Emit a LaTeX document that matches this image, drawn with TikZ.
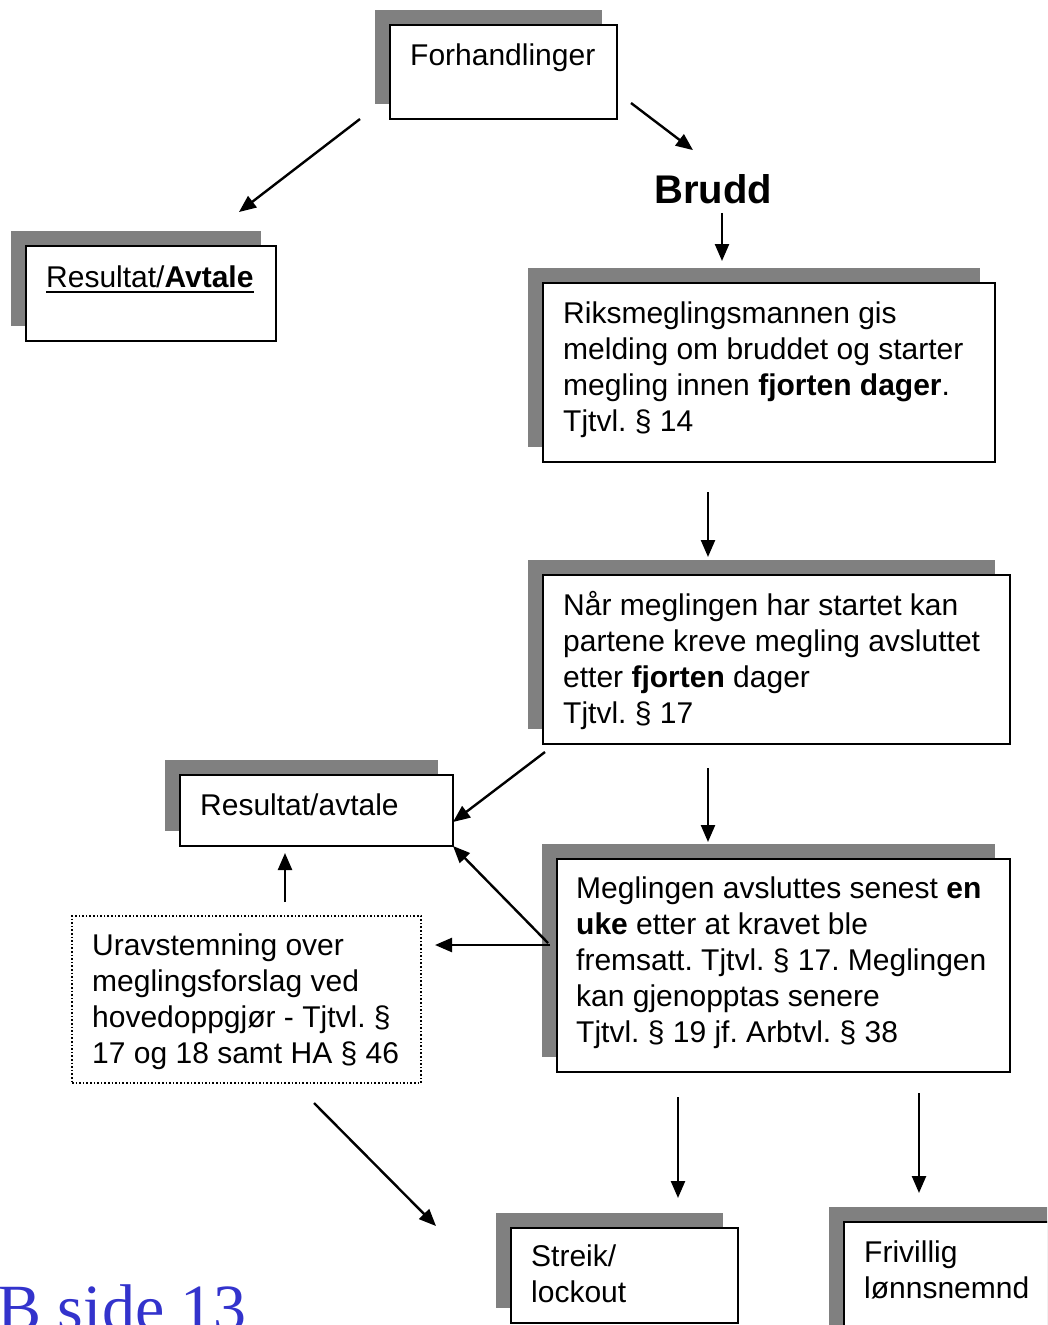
\documentclass[tikz,border=0pt]{standalone}
\usepackage{fontspec}
\setmainfont{Liberation Sans}
\newfontfamily\sidefont{Liberation Serif}
\usetikzlibrary{arrows.meta,calc,shadows}

\definecolor{shadegray}{HTML}{808080}
\definecolor{sideblue}{HTML}{3333CC}

\frenchspacing
\newcommand{\bodyfont}{\fontsize{30}{36}\selectfont}
\newcommand{\thickul}[1]{\setbox0\hbox{#1}\rlap{\rule[-5.5pt]{\wd0}{2pt}}\box0}

\tikzset{
  flowbox/.style={draw, line width=1.4pt, fill=white, anchor=north west,
    inner sep=0pt, outer sep=0pt,
    drop shadow={shadow xshift=-15pt, shadow yshift=15pt, fill=shadegray, opacity=1}},
  dotbox/.style={draw, dotted, line width=1.6pt, anchor=north west,
    inner sep=0pt, outer sep=0pt},
  flowtext/.style={anchor=north west, inner sep=0pt, align=left, font=\bodyfont},
  arr/.style={line width=2.4pt, -{Triangle[length=17pt,width=14pt]}}
}

\begin{document}
\begin{tikzpicture}[x=1pt, y=-1pt]
    \useasboundingbox (0,0) rectangle (1047,1325);
    \clip (0,0) rectangle (1047,1325);

    % Boxes
    \node[flowbox, minimum width=227pt, minimum height=94pt] (forh) at (390,25) {};
    \node[flowbox, minimum width=250pt, minimum height=95pt] (resA) at (26,246) {};
    \node[flowbox, minimum width=452pt, minimum height=179pt] (riks) at (543,283) {};
    \node[flowbox, minimum width=467pt, minimum height=169pt] (naar) at (543,575) {};
    \node[flowbox, minimum width=273pt, minimum height=71pt] (resB) at (180,775) {};
    \node[dotbox, minimum width=349pt, minimum height=167pt] (urav) at (72,916) {};
    \node[flowbox, minimum width=453pt, minimum height=213pt] (meg) at (557,859) {};
    \node[flowbox, minimum width=227pt, minimum height=95pt] (streik) at (511,1228) {};
    \node[flowbox, minimum width=230pt, minimum height=120pt] (friv) at (844,1222) {};

    % Texts
    \node[flowtext] (forh-t) at ($(forh.north west)+(20,14.8)$) {\strut Forhandlinger};
    \node[flowtext] (resA-t) at ($(resA.north west)+(20,15.8)$)
        {\strut\thickul{Resultat/\textbf{Avtale}}};
    \node[flowtext] (riks-t) at ($(riks.north west)+(20,14.8)$)
        {\strut Riksmeglingsmannen gis\\ melding om bruddet og starter\\
         megling innen \textbf{fjorten dager}.\\ Tjtvl. § 14};
    \node[flowtext] (naar-t) at ($(naar.north west)+(20,14.8)$)
        {\strut Når meglingen har startet kan\\ partene kreve megling avsluttet\\
         etter \textbf{fjorten} dager\\ Tjtvl. § 17};
    \node[flowtext] (resB-t) at ($(resB.north west)+(20,14.8)$) {\strut Resultat/avtale};
    \node[flowtext] (urav-t) at ($(urav.north west)+(20,13.8)$)
        {\strut Uravstemning over\\ meglingsforslag ved\\
         hovedoppgjør - Tjtvl. §\\ 17 og 18 samt HA § 46};
    \node[flowtext] (meg-t) at ($(meg.north west)+(19,14.3)$)
        {\strut Meglingen avsluttes senest \textbf{en}\\ \textbf{uke} etter at kravet ble\\
         fremsatt. Tjtvl. § 17. Meglingen\\ kan gjenopptas senere\\
         Tjtvl. § 19 jf. Arbtvl. § 38};
    \node[flowtext] (streik-t) at ($(streik.north west)+(20,12.8)$) {\strut Streik/\\ lockout};
    \node[flowtext] (friv-t) at ($(friv.north west)+(20,14.8)$) {\strut Frivillig\\ lønnsnemnd};

    \node[font=\fontsize{40}{48}\selectfont\bfseries, inner sep=0pt] (brudd) at (713,189) {Brudd};
    \node[font=\sidefont\fontsize{66}{72}\selectfont, text=sideblue, anchor=base east,
        inner sep=0pt] (side) at (247,1330) {IB side 13};

    \coordinate (lowend) at (436,1226);

    % Arrows
    \draw[arr] ($(forh.south west)+(-30,0)$) -- ($(resA.north)+(88,-34)$);
    \draw[arr] ($(forh.south east)+(14,-16)$) -- ($(brudd.north)+(-20,-24)$);
    \draw[arr] ($(brudd.south)+(9,9)$) -- ($(riks.north)+(-47,-22)$);
    \draw[arr] ($(riks.south)+(-61,30)$) -- ($(naar.north)+(-68.5,-18)$);
    \draw[arr] ($(naar.south west)+(2,8)$) -- ($(resB.east)+(0,11.5)$);
    \draw[arr] ($(naar.south)+(-68.5,24)$) -- ($(meg.north)+(-75.5,-17)$);
    \draw[arr] ($(meg.west)+(-9,-22.5)$) -- (resB.south east);
    \draw[arr] ($(meg.west)+(-7,-20.5)$) -- ($(urav.north east)+(14,29)$);
    \draw[arr] ($(urav.north)+(38.5,-14)$) -- ($(resB.south)+(-31.5,7)$);
    \draw[arr] ($(urav.south)+(67.5,20)$) -- (lowend);
    \draw[arr] ($(meg.south)+(-105.5,25)$) -- ($(streik.north)+(53.5,-30)$);
    \draw[arr] ($(meg.south)+(135.5,21)$) -- ($(friv.north west)+(75,-29)$);
\end{tikzpicture}
\end{document}
